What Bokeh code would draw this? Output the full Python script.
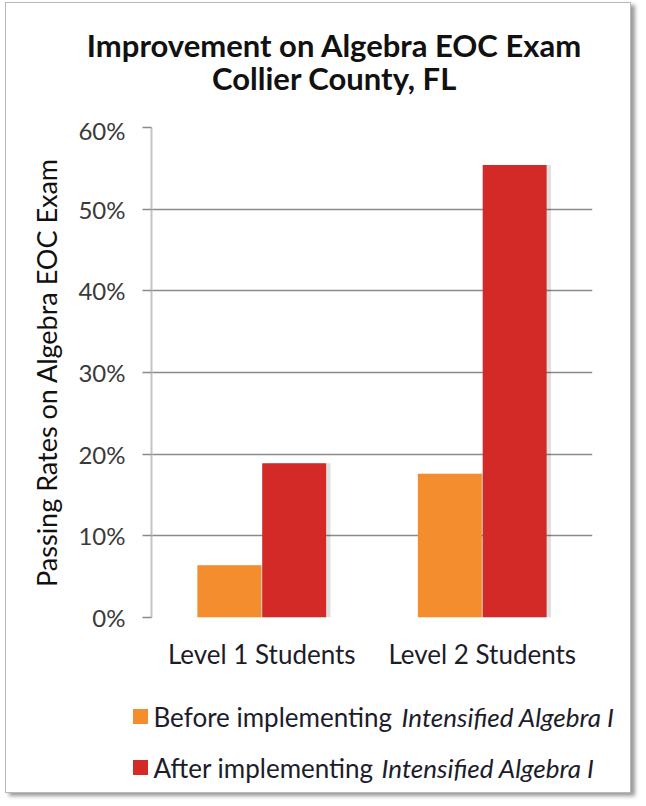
from bokeh.plotting import figure
from bokeh.models import (FactorRange, Range1d, FixedTicker, NumeralTickFormatter,
                          ColumnDataSource)
from bokeh.core.properties import value
from bokeh.transform import dodge
from bokeh.layouts import column
from bokeh.embed import file_html
from bokeh.resources import INLINE

# ---- data ----
categories = ["Level 1 Students", "Level 2 Students"]
before_values = [0.064, 0.176]
after_values = [0.189, 0.554]
y_ticks = [0.0, 0.1, 0.2, 0.3, 0.4, 0.5, 0.6]
series_names = ["Before implementing", "After implementing"]
series_italic = "Intensified Algebra I"
title_lines = ["Improvement on Algebra EOC Exam", "Collier County, FL"]
y_label = "Passing Rates on Algebra EOC Exam"

FONT = "Lato"
TXT = "#1c1c2a"
ORANGE = "#F38D2E"
RED = "#D42A27"
W = 624


def blank(height):
    f = figure(width=W, height=height, x_range=Range1d(0, W), y_range=Range1d(0, height),
               output_backend="svg", toolbar_location=None, min_border=0,
               x_axis_location=None, y_axis_location=None)
    f.outline_line_color = None
    f.grid.grid_line_color = None
    return f


# ---- title ----
tf = blank(112)
tf.text(x=[328, 328], y=[71, 38], text=title_lines, text_font=value(FONT),
        text_font_size="31px", text_font_style="bold", text_color="#111111",
        text_align="center", text_baseline="middle")

# ---- main chart ----
src = ColumnDataSource(dict(cat=categories, before=before_values, after=after_values))

p = figure(x_range=FactorRange(*categories), y_range=Range1d(0, 0.6),
           width=W, height=557, output_backend="svg", toolbar_location=None,
           min_border_left=145, min_border_right=38, min_border_top=12,
           min_border_bottom=55)
p.outline_line_color = None

# shadows
p.vbar(x=dodge("cat", -0.147 + 0.02, range=p.x_range), top="before", width=0.29,
       source=src, fill_color="#000000", fill_alpha=0.12, line_color=None)
p.vbar(x=dodge("cat", 0.147 + 0.02, range=p.x_range), top="after", width=0.29,
       source=src, fill_color="#000000", fill_alpha=0.12, line_color=None)

p.vbar(x=dodge("cat", -0.147, range=p.x_range), top="before", width=0.29,
       source=src, fill_color=ORANGE, line_color=None)
p.vbar(x=dodge("cat", 0.147, range=p.x_range), top="after", width=0.29,
       source=src, fill_color=RED, line_color=None)

p.yaxis.ticker = FixedTicker(ticks=y_ticks)
p.yaxis.formatter = NumeralTickFormatter(format="0%")
p.yaxis.axis_label = y_label
p.yaxis.axis_label_text_font = FONT
p.yaxis.axis_label_text_font_size = "27px"
p.yaxis.axis_label_text_font_style = "normal"
p.yaxis.axis_label_text_color = "#111111"
p.yaxis.axis_label_standoff = 12
p.yaxis.major_label_text_font = FONT
p.yaxis.major_label_text_font_size = "24px"
p.yaxis.major_label_text_color = "#3a3a3a"
p.yaxis.major_label_standoff = 17
p.yaxis.major_tick_out = 9
p.yaxis.major_tick_in = 0
p.yaxis.major_tick_line_color = "#8a8a8a"
p.yaxis.major_tick_line_width = 1.5
p.yaxis.minor_tick_line_color = None
p.yaxis.axis_line_color = "#c4c4c4"
p.yaxis.axis_line_width = 2

p.xaxis.major_label_text_font = FONT
p.xaxis.major_label_text_font_size = "26px"
p.xaxis.major_label_text_color = TXT
p.xaxis.major_label_standoff = 20
p.xaxis.major_tick_out = 0
p.xaxis.major_tick_in = 0
p.xaxis.major_tick_line_color = None
p.xaxis.axis_line_color = None

p.xgrid.grid_line_color = None
p.ygrid.grid_line_color = "#8a8a8a"
p.ygrid.grid_line_width = 1.5

# ---- legend ----
lf = blank(120)
rows_y = [76, 25]
colors = [ORANGE, RED]
italic_x = [395, 375]
lf.scatter(x=[134, 134], y=rows_y, marker="square", size=15, fill_color=colors,
           line_color=None)
lf.text(x=[147, 147], y=rows_y, text=series_names, text_font=value(FONT),
        text_font_size="26px", text_color=TXT, text_baseline="middle")
lf.text(x=italic_x, y=rows_y, text=[series_italic, series_italic], text_font=value(FONT),
        text_font_size="26px", text_font_style="italic", text_color=TXT,
        text_baseline="middle")

layout = column(column(tf), p, column(lf), spacing=0,
                styles={"border": "1px solid #b8b8b8",
                        "box-shadow": "4px 3px 4px #9a9a9a",
                        "background": "white",
                        "margin-left": "5px", "margin-top": "2px"})

open("out.html", "w").write(file_html(layout, INLINE))
